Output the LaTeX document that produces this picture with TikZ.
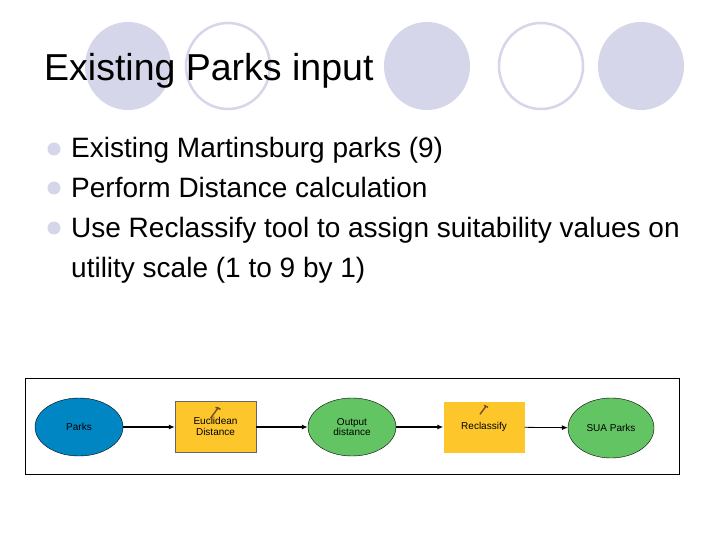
\documentclass[tikz,border=0pt]{standalone}
\usepackage{fontspec}
\setmainfont{Liberation Sans}
\usetikzlibrary{arrows.meta,shapes.geometric}
\definecolor{lav}{RGB}{214,214,234}
\definecolor{parkblue}{RGB}{0,134,195}
\definecolor{outgreen}{RGB}{99,196,99}
\definecolor{toolyel}{RGB}{253,199,44}
\tikzset{
  data/.style={ellipse, draw=black, thin, minimum width=88pt, minimum height=58pt, inner sep=0pt, align=center, font=\fontsize{10}{10.5}\selectfont},
  tool/.style={rectangle, draw=black!60, thin, fill=toolyel, minimum width=81pt, minimum height=51pt, inner sep=0pt, align=center, font=\fontsize{10}{10.5}\selectfont},
  flow/.style={-{Latex[length=6pt,width=5pt]}, line width=1.2pt},
  bul/.style={circle, fill=lav, inner sep=0pt, minimum size=13pt},
  btxt/.style={anchor=base west, inner sep=0pt, font=\fontsize{28}{34}\selectfont},
  deco/.style={ellipse, minimum width=86pt, minimum height=88pt, inner sep=0pt},
  hammer/.style={line width=1.4pt, brown!60!black}
}
\begin{document}
\begin{tikzpicture}[x=1pt,y=-1pt]
\useasboundingbox (0,0) rectangle (720,540);
\fill[white] (0,0) rectangle (720,540);
% decorative circles
\node[deco, fill=lav] (c1) at (128,66) {};
\node[deco, draw=lav, line width=2.5pt, minimum width=84pt, minimum height=86pt] (c2) at (228,66) {};
\node[deco, fill=lav] (c3) at (427,66) {};
\node[deco, draw=lav, line width=2.5pt, minimum width=84pt, minimum height=86pt] (c4) at (541,66) {};
\node[deco, fill=lav] (c5) at (641,66) {};
% title
\node[anchor=base west, inner sep=0pt, font=\fontsize{37.5}{40}\selectfont] (title) at (44,81) {Existing Parks input};
% bullets
\node[bul] (b1) at (54,149) {};
\node[bul] (b2) at (54,188) {};
\node[bul] (b3) at (54,228) {};
\node[btxt] (t1) at (71,158) {Existing Martinsburg parks (9)};
\node[btxt] (t2) at (71,197) {Perform Distance calculation};
\node[btxt] (t3) at (71,237) {Use Reclassify tool to assign suitability values on};
\node[btxt] (t4) at (71,277) {utility scale (1 to 9 by 1)};
% diagram frame
\draw[black, thin] (25,378) rectangle (679,474);
\node[data, fill=parkblue] (parks) at (79,427) {Parks};
\node[tool] (eucl) at (215.5,427) {\\[-4pt]Euclidean\\Distance};
\node[data, fill=outgreen] (out) at (352,427) {Output\\distance};
\node[tool, draw=none] (recl) at (484,427) {Reclassify};
\node[data, fill=outgreen, minimum width=86pt, minimum height=60pt] (sua) at (611,428) {SUA Parks};
% hammer icons
\draw[hammer] ([xshift=-5pt,yshift=-17pt]eucl.north) -- ([xshift=3pt,yshift=-6pt]eucl.north);
\draw[hammer] ([xshift=0pt,yshift=-6pt]eucl.north) -- ([xshift=5pt,yshift=-8pt]eucl.north);
\draw[hammer] ([xshift=-4pt,yshift=-13pt]recl.north) -- ([xshift=2pt,yshift=-5pt]recl.north);
\draw[hammer] ([xshift=0pt,yshift=-4pt]recl.north) -- ([xshift=4pt,yshift=-6pt]recl.north);
% connectors
\draw[flow] (parks) -- (eucl);
\draw[flow] (eucl) -- (out);
\draw[flow] (out) -- (recl);
\draw[flow, line width=0.8pt] (recl) -- (sua);
\end{tikzpicture}
\end{document}
